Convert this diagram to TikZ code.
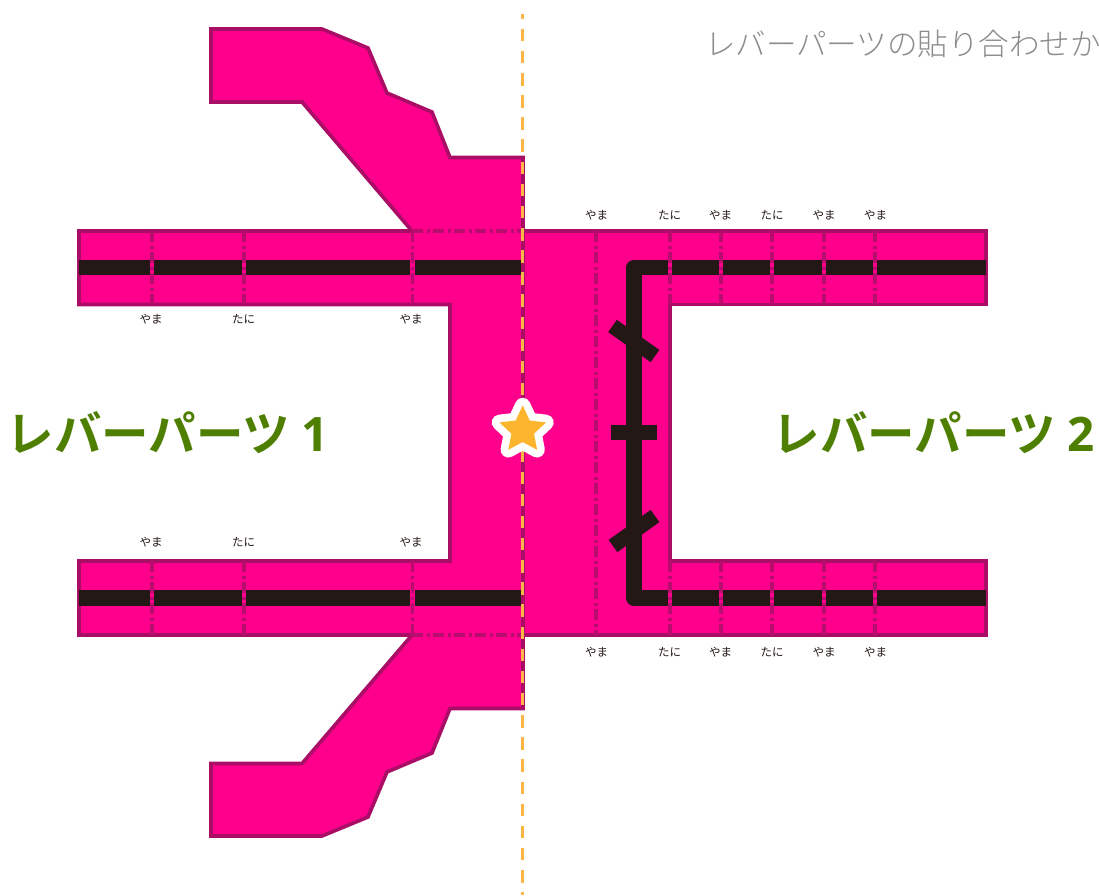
\documentclass[tikz,border=0pt]{standalone}
\usepackage{fontspec}
\setmainfont{Noto Sans CJK JP}[UprightFont={* Light}]
\newfontfamily\smallfont{Noto Sans CJK JP}
\newfontfamily\cjkbold{Noto Sans CJK JP Bold}
\newfontfamily\digitbold{Open Sans}[UprightFont={* Bold}]
\definecolor{pinkfill}{HTML}{FF008C}
\definecolor{pinkline}{HTML}{A90D66}
\definecolor{foldcolor}{HTML}{B80C6E}
\definecolor{inkblack}{HTML}{231815}
\definecolor{guide}{HTML}{FCB645}
\definecolor{starfill}{HTML}{FDB52E}
\definecolor{titlegreen}{HTML}{4F7F00}
\tikzset{
  x=1pt,y=-1pt,
  part/.style={fill=pinkfill,draw=pinkline,line width=3.6pt,line join=miter},
  band/.style={draw=inkblack,line width=15.5pt,line join=round},
  cross/.style={draw=inkblack,line width=15pt},
  halo/.style={draw=pinkfill,line width=4.5pt},
  foldline/.style={draw=foldcolor,line width=3.4pt,dash pattern=on 11pt off 3.5pt on 3pt off 3.5pt},
  guideline/.style={draw=guide,line width=2.3pt,dash pattern=on 12.5pt off 9.64pt,dash phase=7.4pt},
  small/.style={font=\smallfont\fontsize{11.5}{11.5}\selectfont,text=inkblack,inner sep=0pt},
  big/.style={font=\cjkbold\fontsize{47.5}{47.5}\selectfont,text=titlegreen,inner sep=0pt},
}
\begin{document}
\begin{tikzpicture}
\clip (0,0) rectangle (1099,895);
\fill[white] (0,0) rectangle (1099,895);
% right part
\draw[part] (523,231) -- (986,231) -- (986,304.5) -- (670,304.5) -- (670,561) -- (986,561) -- (986,635) -- (523,635) -- cycle;
% left part
\draw[part] (79,231) -- (412,231) -- (302,102) -- (211,102) -- (211,29) -- (322,29) -- (368,48) -- (387,93) -- (432,112) -- (450,157.5) -- (523,157.5) -- (523,708.5) -- (450,708.5) -- (432,753) -- (387,772) -- (368,817) -- (322,836) -- (211,836) -- (211,763.5) -- (302,763.5) -- (412,635) -- (79,635) -- (79,561) -- (450,561) -- (450,304.5) -- (79,304.5) -- cycle;
% black bands
\draw[band] (79,267.5) -- (521,267.5);
\draw[band] (79,598) -- (521,598);
\draw[band] (986,267.5) -- (634,267.5) -- (634,598) -- (986,598);
\draw[cross] (611,432) -- (657,432);
\draw[cross] (612.5,326) -- (655,356);
\draw[cross] (613,546) -- (655,516);
% fold lines
\foreach \x in {152,244,412.7,670,721,772,824,875}{
  \draw[halo] (\x,233) -- (\x,303);
  \draw[halo] (\x,563) -- (\x,633);
  \draw[foldline] (\x,231) -- (\x,304);
  \draw[foldline] (\x,561) -- (\x,635);
}
\draw[foldline] (596,231) -- (596,635);
\draw[halo,line width=3.6pt] (414,231) -- (521,231);
\draw[halo,line width=3.6pt] (414,635) -- (521,635);
\draw[foldline] (412,231) -- (523,231);
\draw[foldline] (412,635) -- (523,635);
% guide
\draw[guideline] (522.5,14) -- (522.5,895);
% star
\draw[draw=white,line width=15.5pt,line join=round,fill=white]
  (522.7,405.5) -- (529.7,420.5) -- (546,422.4) -- (534,433.7) -- (537.1,449.8) -- (522.7,442) -- (508.3,449.8) -- (511.4,433.7) -- (499.4,422.4) -- (515.7,420.5) -- cycle;
\fill[starfill]
  (522.7,405.5) -- (529.7,420.5) -- (546,422.4) -- (534,433.7) -- (537.1,449.8) -- (522.7,442) -- (508.3,449.8) -- (511.4,433.7) -- (499.4,422.4) -- (515.7,420.5) -- cycle;
% labels
\node[small] (lt1) at (151,319) {やま};
\node[small] (lt2) at (243.5,319) {たに};
\node[small] (lt3) at (411,319) {やま};
\node[small] (lb1) at (151,542) {やま};
\node[small] (lb2) at (243.5,542) {たに};
\node[small] (lb3) at (411,542) {やま};
\node[small] (rt1) at (596.5,215) {やま};
\node[small] (rt2) at (669.5,215) {たに};
\node[small] (rt3) at (720.5,215) {やま};
\node[small] (rt4) at (772,215) {たに};
\node[small] (rt5) at (824,215) {やま};
\node[small] (rt6) at (875.5,215) {やま};
\node[small] (rb1) at (596.5,652) {やま};
\node[small] (rb2) at (669.5,652) {たに};
\node[small] (rb3) at (720.5,652) {やま};
\node[small] (rb4) at (772,652) {たに};
\node[small] (rb5) at (824,652) {やま};
\node[small] (rb6) at (875.5,652) {やま};
\node[big,anchor=west] (t1) at (6.5,433) {レバーパーツ\hspace{11pt}{\digitbold 1}};
\node[big,anchor=west] (t2) at (772.5,433) {レバーパーツ\hspace{11pt}{\digitbold 2}};
\node[anchor=west,inner sep=0pt,text=black!45,font=\fontsize{30.5}{30.5}\selectfont] (head) at (705,44) {レバーパーツの貼り合わせか};
\end{tikzpicture}
\end{document}
